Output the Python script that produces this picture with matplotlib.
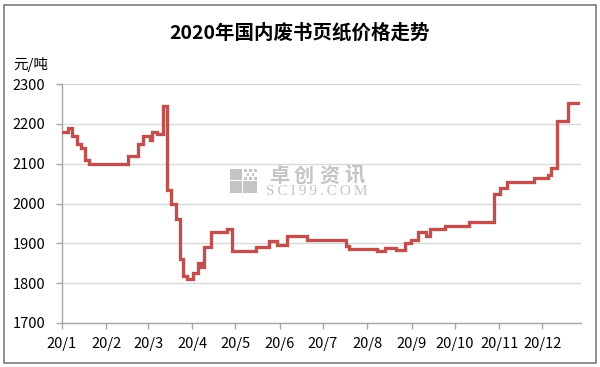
import matplotlib
matplotlib.use("Agg")
import matplotlib.pyplot as plt
from matplotlib.patches import Rectangle
import numpy as np

plt.rcParams['font.family'] = ['Noto Sans CJK SC', 'DejaVu Sans']

title = "2020年国内废书页纸价格走势"
unit_label = "元/吨"
month_labels = ["20/1", "20/2", "20/3", "20/4", "20/5", "20/6",
                "20/7", "20/8", "20/9", "20/10", "20/11", "20/12"]
month_starts = [0, 31, 60, 91, 121, 152, 182, 213, 244, 274, 305, 335]

# breakpoints (day of year) and price (yuan/ton)
days = [0.7, 4, 7, 10.5, 13, 16, 19, 46, 53, 56.5, 61.5, 63, 66, 70.5,
        73, 76, 79.5, 82, 84.5, 87, 91.5, 95, 97, 99, 104, 115, 118.5,
        135.5, 144.5, 150, 157, 171, 198, 200, 220, 225.5, 233, 239,
        243.5, 248, 254, 257, 267, 284, 301.5, 305.5, 310.5, 329.5,
        339, 341, 345, 353, 360]
prices = [2180, 2190, 2170, 2150, 2140, 2110, 2100, 2120, 2150, 2170,
          2160, 2180, 2175, 2245, 2035, 2000, 1960, 1860, 1818, 1810,
          1825, 1850, 1840, 1890, 1928, 1937, 1882, 1890, 1905, 1895,
          1918, 1908, 1894, 1886, 1880, 1888, 1884, 1902, 1908, 1929,
          1918, 1935, 1944, 1954, 2025, 2038, 2053, 2065, 2072, 2088,
          2208, 2253, 2253]
yticks = [1700, 1800, 1900, 2000, 2100, 2200, 2300]

W, H = 600, 367
fig = plt.figure(figsize=(W / 100, H / 100), dpi=100)
ax = fig.add_axes([62 / W, 1 - 323 / H, (581 - 62) / W, (323 - 84) / H])

ax.plot(days, prices, drawstyle='steps-post', color='#C0504D', lw=2.4,
        solid_joinstyle='miter', zorder=3)

ax.set_xlim(0, 362)
ax.set_ylim(1700, 2300)
ax.set_yticks(yticks)
ax.set_yticklabels([str(v) for v in yticks], fontsize=10.5)
ax.set_xticks(month_starts)
ax.set_xticklabels(month_labels, fontsize=10.5)
ax.yaxis.grid(True, color='#D9D9D9', lw=1)
ax.set_axisbelow(True)
for s in ['top', 'right']:
    ax.spines[s].set_visible(False)
for s in ['left', 'bottom']:
    ax.spines[s].set_color('#A6A6A6')
    ax.spines[s].set_linewidth(1)
ax.tick_params(axis='both', colors='#A6A6A6', length=4, width=1, labelcolor='black')
ax.tick_params(axis='y', pad=8)
ax.tick_params(axis='x', pad=6)

fig.text(0.5, 1 - 33 / H, title, ha='center', va='center', fontsize=14,
         fontweight='bold')
fig.text(13 / W, 1 - 65 / H, unit_label, ha='left', va='center', fontsize=10.5)

# watermark
gray = '#C4C4C4'
def px_rect(x, y, w, h, **kw):
    fig.add_artist(Rectangle((x / W, 1 - (y + h) / H), w / W, h / H,
                             transform=fig.transFigure, lw=0, **kw))
px_rect(230, 169, 12, 11, color=gray)
px_rect(230, 181, 12, 12, color=gray)
px_rect(243, 181, 14, 12, color=gray)
for (dx, dy) in [(244, 169), (249, 169), (254, 169), (246.5, 173), (251.5, 173),
                 (244, 177), (249, 177), (254, 177)]:
    px_rect(dx, dy, 2.5, 2.5, color=gray)
wm_chars = "卓创资讯"
for i, ch in enumerate(wm_chars):
    fig.text((279 + 25 * i) / W, 1 - 175.5 / H, ch, ha='center', va='center',
             fontsize=14.5, color=gray, fontweight='bold')
fig.text(317 / W, 1 - 192 / H, "S C I 9 9 . C O M".replace(' ', '\u2009'),
         ha='center', va='center', fontsize=11, color=gray,
         family=['Liberation Serif', 'DejaVu Serif'])

# figure border
fig.add_artist(Rectangle((4 / W, 4 / H), (596 - 4) / W, (362 - 4) / H,
                         transform=fig.transFigure, fill=False,
                         edgecolor='#7F7F7F', lw=1.2))

fig.savefig('out.png', dpi=100)
